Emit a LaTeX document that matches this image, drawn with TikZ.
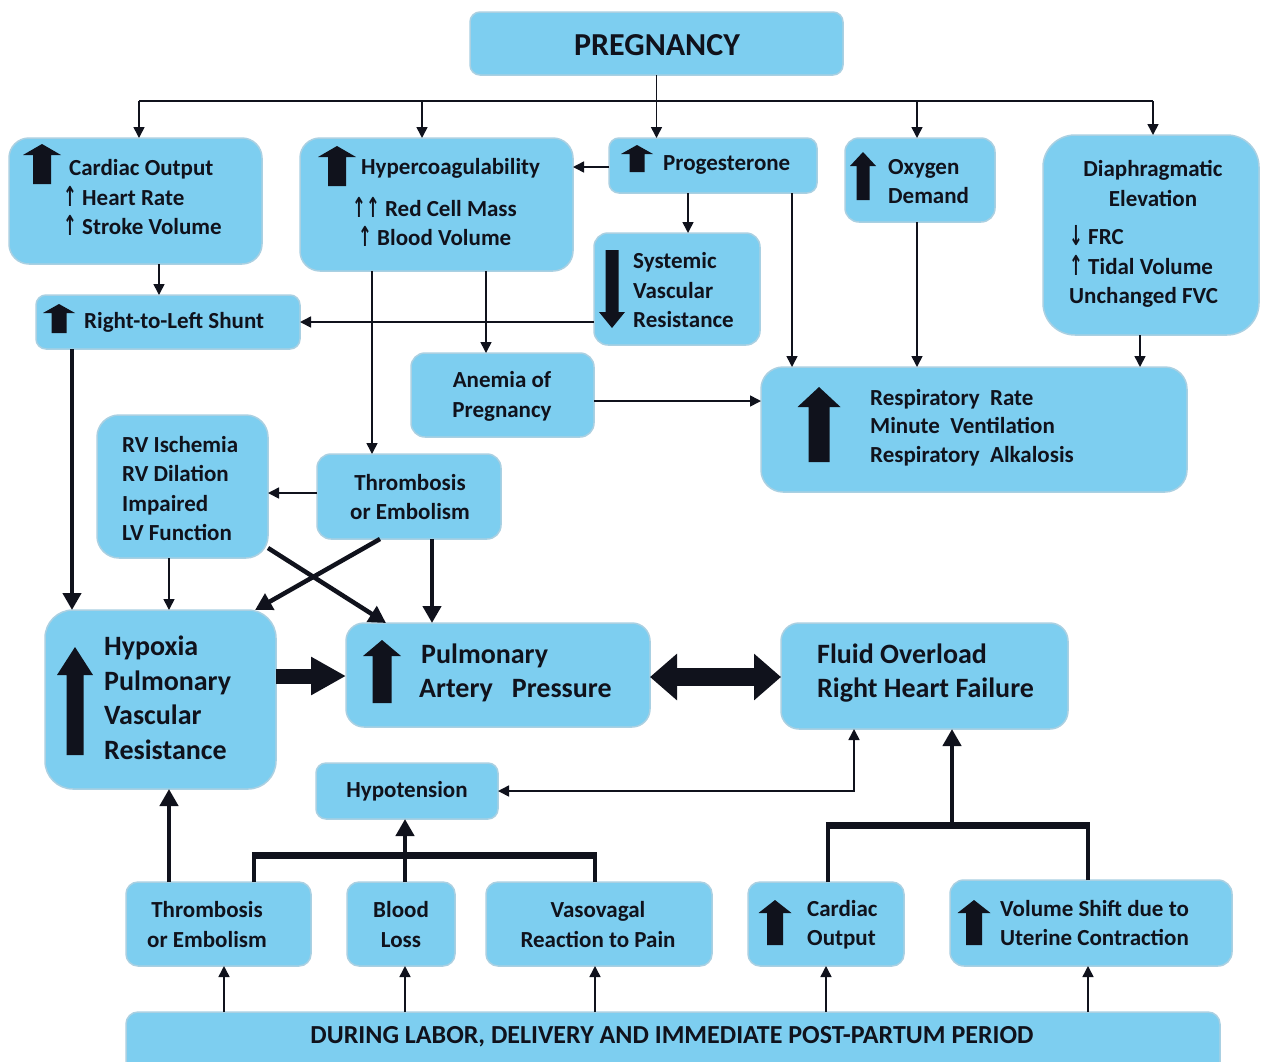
\documentclass[tikz,border=0pt]{standalone}
\usepackage{graphicx}
\usepackage{fontspec}
\setmainfont{Carlito}
\newfontfamily\symf{DejaVu Sans}
\usetikzlibrary{arrows.meta}
\definecolor{boxfill}{RGB}{125,206,240}
\definecolor{boxedge}{RGB}{170,208,226}
\definecolor{ink}{RGB}{16,18,28}
\newcommand\ua{{\symf\fontsize{22}{29.5}\selectfont\raisebox{-1pt}{\scalebox{0.75}[1.25]{↑}}}}
\newcommand\da{{\symf\fontsize{22}{29.5}\selectfont\raisebox{-1pt}{\scalebox{0.75}[1.25]{↓}}}}
\newcommand\bx[6][]{\node[box,#1,minimum width={(#5-#3)*1pt},minimum height={(#6-#4)*1pt}] (#2) at ({(#3+#5)/2},{(#4+#6)/2}) {};}
\newcommand\iconup[6]{\fill[ink] ({#1-#6/2},#3) -- ({#1-#6/2},{#2+#5}) -- ({#1-#4/2},{#2+#5}) -- (#1,#2) -- ({#1+#4/2},{#2+#5}) -- ({#1+#6/2},{#2+#5}) -- ({#1+#6/2},#3) -- cycle;}
\newcommand\icondown[6]{\fill[ink] ({#1-#6/2},#3) -- ({#1-#6/2},{#2-#5}) -- ({#1-#4/2},{#2-#5}) -- (#1,#2) -- ({#1+#4/2},{#2-#5}) -- ({#1+#6/2},{#2-#5}) -- ({#1+#6/2},#3) -- cycle;}
\begin{document}
\begin{tikzpicture}[x=1pt,y=-1pt,
  box/.style={fill=boxfill, draw=boxedge, line width=1.5pt, inner sep=0pt, outer sep=0pt},
  txt/.style={font=\fontsize{23}{29.5}\selectfont\bfseries, inner sep=0pt, text=ink},
  bigtxt/.style={font=\fontsize{28}{34.5}\selectfont\bfseries, inner sep=0pt, text=ink},
  ln/.style={line width=1.6pt, draw=ink},
  thin/.style={line width=1.6pt, draw=ink, -{Triangle[length=11pt,width=11pt]}},
  thinboth/.style={line width=1.6pt, draw=ink, {Triangle[length=11pt,width=11pt]}-{Triangle[length=11pt,width=11pt]}},
  thick/.style={line width=4.5pt, draw=ink, -{Triangle[length=17pt,width=18pt]}},
  leg/.style={line width=4.5pt, draw=ink},
  bar/.style={line width=7pt, draw=ink},
  fat/.style={line width=15pt, draw=ink, -{Triangle[length=35pt,width=36pt]}},
  dbl/.style={line width=18pt, draw=ink, {Triangle[length=27pt,width=45pt]}-{Triangle[length=27pt,width=45pt]}}
]
\fill[white] (0,0) rectangle (1261,1061);
\useasboundingbox (0,0) rectangle (1261,1061);
\clip (0,0) rectangle (1261,1061);

% boxes
\bx[rounded corners=10pt]{preg}{470}{12}{843}{75}
\bx[rounded corners=20pt]{card}{9}{138}{262}{264}
\bx[rounded corners=20pt]{hyper}{300}{138}{573}{271}
\bx[rounded corners=10pt]{prog}{609}{138}{817}{193}
\bx[rounded corners=14pt]{oxy}{845}{138}{995}{222}
\bx[rounded corners=32pt]{dia}{1043}{135}{1259}{335}
\bx[rounded corners=14pt]{svr}{594}{233}{760}{345}
\bx[rounded corners=10pt]{shunt}{36}{295}{300}{349}
\bx[rounded corners=14pt]{anemia}{411}{353}{594}{437}
\bx[rounded corners=22pt]{resp}{761}{367}{1187}{492}
\bx[rounded corners=22pt]{rv}{97}{415}{268}{558}
\bx[rounded corners=14pt]{thrA}{317}{454}{501}{539}
\bx[rounded corners=28pt]{hyp}{45}{610}{276}{789}
\bx[rounded corners=18pt]{pap}{346}{623}{650}{727}
\bx[rounded corners=18pt]{fluid}{781}{623}{1068}{729}
\bx[rounded corners=10pt]{hypot}{316}{763}{498}{819}
\bx[rounded corners=12pt]{thrB}{126}{882}{311}{966}
\bx[rounded corners=12pt]{blood}{347}{882}{455}{966}
\bx[rounded corners=12pt]{vaso}{486}{882}{712}{966}
\bx[rounded corners=12pt]{coB}{748}{882}{904}{966}
\bx[rounded corners=14pt]{vs}{950}{880}{1232}{966}
\bx[rounded corners=12pt]{during}{126}{1012}{1220}{1090}

% icons
\iconup{42}{144}{184}{38}{11}{18}
\iconup{337}{146}{186}{38}{11}{18}
\iconup{637}{145}{172}{32}{9}{15}
\iconup{863}{152}{200}{26}{14}{13}
\icondown{612}{328}{250}{26}{16}{13}
\iconup{59}{304}{333}{32}{9}{15}
\iconup{819}{387}{462}{43}{20}{21}
\iconup{75}{647}{755}{36}{28}{17}
\iconup{382}{640}{703}{38}{16}{19}
\iconup{775}{900}{945}{33}{13}{16}
\iconup{974}{900}{945}{33}{13}{16}

% texts
\node[txt, font=\fontsize{32}{34}\selectfont\bfseries] (tPreg) at (657,45) {PREGNANCY};
\node[txt, align=left, anchor=west] (tCard) at (63,197.5) {\hspace{6pt}Cardiac Output\\\ua\ Heart Rate\\\ua\ Stroke Volume};
\node[txt, anchor=west] (tHyp1) at (361,168) {Hypercoagulability};
\node[txt, align=left, anchor=west] (tHyp2) at (352,222) {\ua\ua\ Red Cell Mass\\\hspace{6pt}\ua\ Blood Volume};
\node[txt, anchor=west] (tProg) at (663,165) {Progesterone};
\node[txt, align=left, anchor=west] (tOxy) at (888,181.5) {Oxygen\\Demand};
\node[txt, align=center] (tDia1) at (1153,183.5) {Diaphragmatic\\Elevation};
\node[txt, align=left, anchor=west] (tDia2) at (1069,266.5) {\da\ FRC\\\ua\ Tidal Volume\\Unchanged FVC};
\node[txt, align=left, anchor=west] (tSvr) at (633,290.5) {Systemic\\Vascular\\Resistance};
\node[txt, anchor=west] (tShunt) at (84,322) {Right-to-Left Shunt};
\node[txt, align=center] (tAnemia) at (502,396.5) {Anemia of\\Pregnancy};
\node[txt, align=left, anchor=west, font=\fontsize{23}{28.5}\selectfont\bfseries] (tResp) at (870,427.5) {Respiratory~~Rate\\Minute~~Ventilation\\Respiratory~~Alkalosis};
\node[txt, align=left, anchor=west] (tRv) at (122,488.5) {RV Ischemia\\RV Dilation\\Impaired\\LV Function};
\node[txt, align=center] (tThrA) at (410,497) {Thrombosis\\or Embolism};
\node[bigtxt, align=left, anchor=west] (tHyp) at (104,698) {Hypoxia\\Pulmonary\\Vascular\\Resistance};
\node[bigtxt, align=left, anchor=west] (tPap) at (419,673) {\hspace{2pt}Pulmonary\\Artery~~~Pressure};
\node[bigtxt, align=left, anchor=west] (tFluid) at (817,673) {Fluid Overload\\Right Heart Failure};
\node[txt] (tHypot) at (407,791) {Hypotension};
\node[txt, align=center] (tThrB) at (207,924.5) {Thrombosis\\or Embolism};
\node[txt, align=center] (tBlood) at (401,924.5) {Blood\\Loss};
\node[txt, align=center] (tVaso) at (598,924.5) {Vasovagal\\Reaction to Pain};
\node[txt, align=left, anchor=west] (tCoB) at (807,924.5) {Cardiac\\Output};
\node[txt, align=left, anchor=west] (tVs) at (1000,923) {Volume Shift due to\\Uterine Contraction};
\node[txt, font=\fontsize{26}{28}\selectfont\bfseries] (tDuring) at (672,1037) {DURING LABOR, DELIVERY AND IMMEDIATE POST-PARTUM PERIOD};

% top bus
\coordinate (b1) at (139,101);
\coordinate (b2) at (422,101);
\coordinate (b3) at (917,101);
\coordinate (b4) at (1153,101);
\draw[ln] (b1) -- (b4);
\draw[ln] (preg.south) -- (preg.south |- b1);
\draw[thin] (b1) -- (b1 |- card.north);
\draw[thin] (b2) -- (b2 |- hyper.north);
\draw[thin] (preg.south |- b1) -- (preg.south |- prog.north);
\draw[thin] (b3) -- (b3 |- oxy.north);
\draw[thin] (b4) -- (b4 |- dia.north);

% upper connectors
\draw[thin] (prog.west |- 0,167) -- (hyper.east |- 0,167);
\draw[thin] (prog.south -| 688,0) -- (svr.north -| 688,0);
\draw[thin] (card.south -| 159,0) -- (shunt.north -| 159,0);
\draw[thin] (svr.west |- shunt.east) -- (shunt.east);
\draw[thin] (hyper.south -| 372,0) -- (thrA.north -| 372,0);
\draw[thin] (hyper.south -| 486,0) -- (anemia.north -| 486,0);
\draw[thin] (anemia.east |- 0,401) -- (resp.west |- 0,401);
\draw[thin] (prog.south -| 792,0) -- (resp.north -| 792,0);
\draw[thin] (oxy.south -| 917,0) -- (resp.north -| 917,0);
\draw[thin] (dia.south -| 1140,0) -- (resp.north -| 1140,0);
\draw[thin] (thrA.west |- 0,493) -- (rv.east |- 0,493);

% middle connectors
\draw[thick] (shunt.south -| 72,0) -- (hyp.north -| 72,0);
\draw[thin] (rv.south -| 169,0) -- (hyp.north -| 169,0);
\draw[thick] (thrA.south -| 380,0) -- (hyp.north -| 255,0);
\draw[thick] (rv.east |- 0,548) -- (pap.north -| 386,0);
\draw[thick] (thrA.south -| 432,0) -- (pap.north -| 432,0);
\draw[fat] (hyp.east |- 0,676) -- (pap.west |- 0,676);
\draw[dbl] (pap.east |- 0,677) -- (fluid.west |- 0,677);
\draw[thinboth] (hypot.east) -| (fluid.south -| 854,0);

% lower brackets
\coordinate (lbar) at (405,855);
\coordinate (rbar) at (952,825);
\draw[leg] (thrB.north -| 254,0) -- (lbar -| 254,0);
\draw[leg] (vaso.north -| 595,0) -- (lbar -| 595,0);
\draw[bar] (251.75,855) -- (597.25,855);
\draw[thick] (blood.north -| lbar) -- (hypot.south -| lbar);
\draw[leg] (coB.north -| 828,0) -- (rbar -| 828,0);
\draw[leg] (vs.north -| 1088,0) -- (rbar -| 1088,0);
\draw[bar] (825.75,825) -- (1090.25,825);
\draw[thick] (rbar) -- (fluid.south -| rbar);
\draw[thick] (thrB.north -| 169,0) -- (hyp.south -| 169,0);

% bottom arrows
\draw[thin] (during.north -| 224,0) -- (thrB.south -| 224,0);
\draw[thin] (during.north -| 405,0) -- (blood.south -| 405,0);
\draw[thin] (during.north -| 595,0) -- (vaso.south -| 595,0);
\draw[thin] (during.north -| 826,0) -- (coB.south -| 826,0);
\draw[thin] (during.north -| 1088,0) -- (vs.south -| 1088,0);
\end{tikzpicture}
\end{document}
